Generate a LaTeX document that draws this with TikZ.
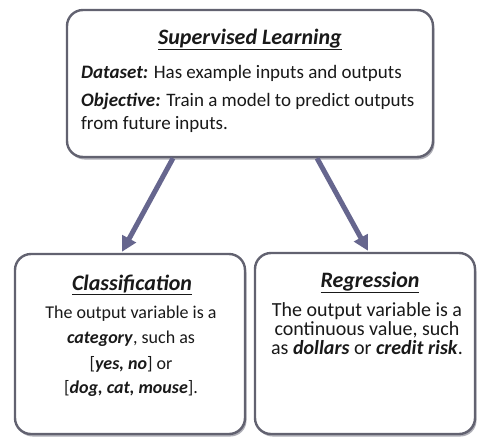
\documentclass[tikz,border=0pt]{standalone}
\usepackage{fontspec}
\setmainfont{Carlito}
\usetikzlibrary{arrows.meta,shadows}
\definecolor{boxline}{HTML}{626270}
\definecolor{arrowcol}{HTML}{66668E}
\definecolor{shadowcol}{HTML}{8A8A96}
\newcommand\headfont{\fontsize{22}{26}\selectfont\bfseries\itshape}
\newcommand\bodyfont{\fontsize{18}{22}\selectfont}
\newcommand\topfont{\fontsize{19}{22}\selectfont}
\newcommand\regfont{\fontsize{20}{22}\selectfont}
\newcommand\kw[1]{\textbf{\textit{#1}}}
\tikzset{
  card/.style={draw=boxline, line width=2.4pt, fill=white, rounded corners=16pt,
    inner sep=0pt,
    drop shadow={shadow xshift=1.5pt, shadow yshift=-2.5pt, fill=shadowcol, opacity=0.7}},
  flow/.style={draw=arrowcol, line width=5pt,
    -{Triangle[length=15pt,width=15pt]}},
  txt/.style={inner sep=0pt, anchor=base, text=black!90}
}
\begin{document}
\begin{tikzpicture}[x=1pt,y=-1pt]
\useasboundingbox (0,0) rectangle (478,439);

% the three boxes
\node[card, minimum width=366pt, minimum height=147pt] (sup) at (250,83.5) {};
\node[card, minimum width=230pt, minimum height=180pt] (cls) at (130,344) {};
\node[card, minimum width=220pt, minimum height=181pt] (reg) at (365,343.5) {};

% connectors
\draw[flow] ([xshift=-77pt]sup.south) -- ([xshift=-8pt,yshift=1pt]cls.north);
\draw[flow] ([xshift=67pt]sup.south) -- ([xshift=3pt,yshift=1pt]reg.north);

% top box text
\node[txt] (suph) at (250,44) {\headfont\underline{Supervised Learning}};
\node[txt, anchor=base west] (sup1) at (81,78) {\topfont\kw{Dataset:} Has example inputs and outputs};
\node[txt, anchor=base west] (sup2) at (81,106) {\topfont\kw{Objective:} Train a model to predict outputs};
\node[txt, anchor=base west] (sup3) at (81,129) {\topfont from future inputs.};

% classification text
\node[txt] (clsh) at (132,290) {\headfont\underline{Classification}};
\node[txt] (cls1) at (131,318) {\bodyfont The output variable is a};
\node[txt] (cls2) at (131,343) {\bodyfont\kw{category}, such as};
\node[txt] (cls3) at (131,369) {\bodyfont[\kw{yes, no}] or};
\node[txt] (cls4) at (131,393) {\bodyfont[\kw{dog, cat, mouse}].};

% regression text
\node[txt] (regh) at (370,287) {\headfont\underline{Regression}};
\node[txt] (reg1) at (367,316) {\regfont The output variable is a};
\node[txt] (reg2) at (367,335) {\regfont continuous value, such};
\node[txt] (reg3) at (367,354) {\regfont as \kw{dollars} or \kw{credit risk}.};
\end{tikzpicture}
\end{document}
